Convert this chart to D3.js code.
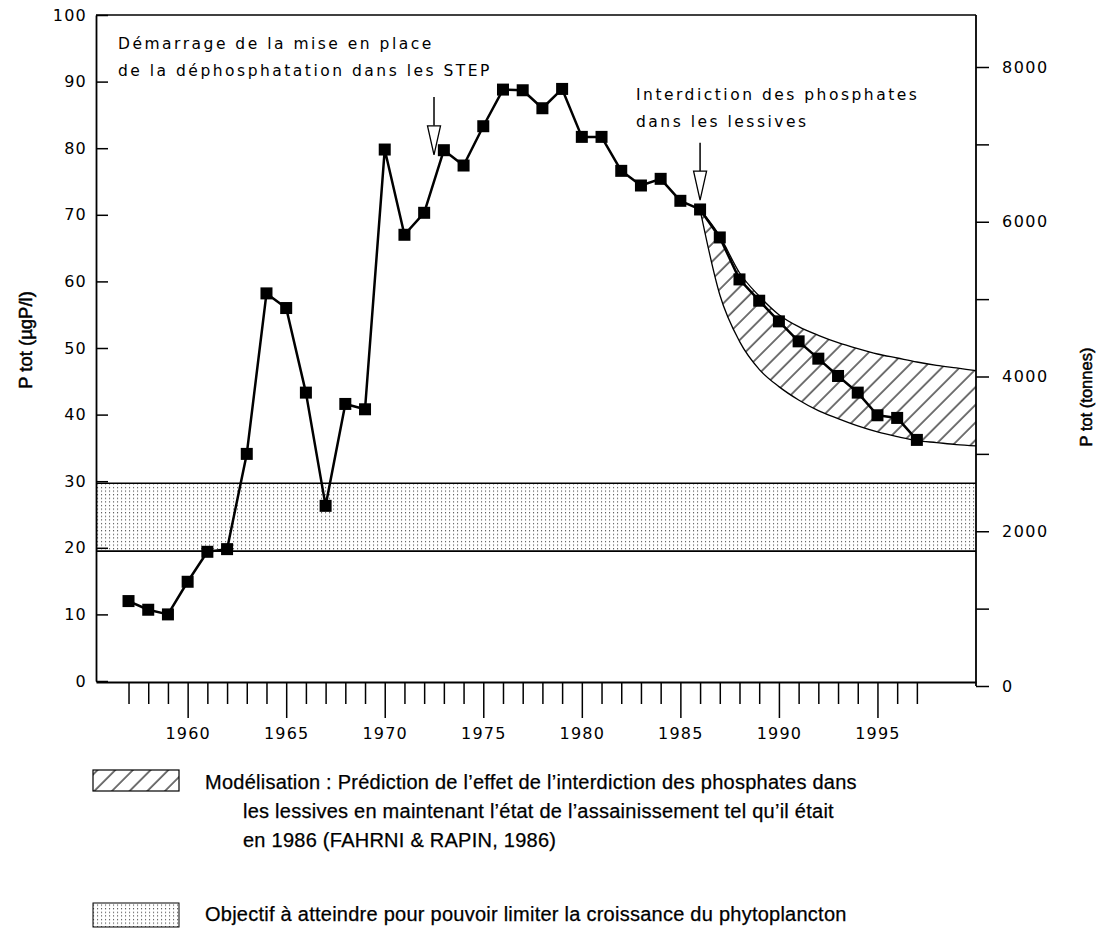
<!DOCTYPE html>
<html>
<head>
<meta charset="utf-8">
<script src="https://cdn.jsdelivr.net/npm/d3@7"></script>
<style>
  body { margin: 0; background: #fff; }
  svg { display: block; }
</style>
</head>
<body>
<svg id="chart" width="1099" height="932"></svg>
<script>
// Total phosphorus in the lake, yearly means (µgP/l)
const years = [1957, 1958, 1959, 1960, 1961, 1962, 1963, 1964, 1965, 1966,
               1967, 1968, 1969, 1970, 1971, 1972, 1973, 1974, 1975, 1976,
               1977, 1978, 1979, 1980, 1981, 1982, 1983, 1984, 1985, 1986,
               1987, 1988, 1989, 1990, 1991, 1992, 1993, 1994, 1995, 1996, 1997];
const pTot = [12.0, 10.7, 10.0, 14.9, 19.4, 19.8, 34.1, 58.2, 56.0, 43.3,
              26.3, 41.6, 40.8, 79.8, 67.0, 70.3, 79.7, 77.4, 83.3, 88.8,
              88.7, 86.0, 88.9, 81.7, 81.7, 76.6, 74.4, 75.4, 72.1, 70.8,
              66.6, 60.3, 57.1, 54.0, 51.0, 48.4, 45.8, 43.3, 39.9, 39.5, 36.2];

// Model prediction band after the 1986 detergent phosphate ban
const modelYears = [1986, 1987, 1988, 1989, 1990, 1991, 1992, 1993, 1994, 1995, 1996, 1997, 1998, 1999, 2000];
const modelHigh  = [70.8, 66.8, 61.3, 57.8, 55.0, 53.2, 51.9, 50.8, 49.9, 49.1, 48.5, 47.9, 47.4, 47.0, 46.6];
const modelLow   = [70.8, 58.0, 51.0, 46.8, 44.2, 42.2, 40.6, 39.4, 38.3, 37.4, 36.7, 36.1, 35.8, 35.5, 35.3];

// Target range for limiting phytoplankton growth (µgP/l)
const objectiveBand = [19.5, 29.7];

// Axis ticks
const leftTicks = [0, 10, 20, 30, 40, 50, 60, 70, 80, 90, 100];
const rightTicks = [0, 1000, 2000, 3000, 4000, 5000, 6000, 7000, 8000];
const yearTicks = d3.range(1957, 1998);
const yearLabels = [1960, 1965, 1970, 1975, 1980, 1985, 1990, 1995];

// Annotation arrows: [year, top value, tip value]
const arrowSTEP = [1972.5, 87.7, 79.0];
const arrowBan = [1986, 80.8, 72.2];

const svg = d3.select("#chart");
const tickFont = "'DejaVu Sans', sans-serif";
const textFont = "'Liberation Sans', Arial, sans-serif";

const x = d3.scaleLinear().domain([1955.35, 2000]).range([96, 976]);
const y = d3.scaleLinear().domain([0, 100]).range([681, 15]);
const yT = d3.scaleLinear().domain([0, 8000]).range([686, 67]);

// Patterns
const defs = svg.append("defs");
const hatch = defs.append("pattern")
  .attr("id", "hatch").attr("patternUnits", "userSpaceOnUse")
  .attr("width", 12.5).attr("height", 12.5)
  .attr("patternTransform", "rotate(45)");
hatch.append("line").attr("x1", 1).attr("y1", -1).attr("x2", 1).attr("y2", 14)
  .attr("stroke", "#000").attr("stroke-width", 1.1);

const dots = defs.append("pattern")
  .attr("id", "dots").attr("patternUnits", "userSpaceOnUse")
  .attr("width", 4).attr("height", 3.6);
dots.append("rect").attr("x", 1).attr("y", 1).attr("width", 1.1).attr("height", 1.1).attr("fill", "#444");

// Objective band
svg.append("rect")
  .attr("x", x.range()[0]).attr("width", x.range()[1] - x.range()[0])
  .attr("y", y(objectiveBand[1])).attr("height", y(objectiveBand[0]) - y(objectiveBand[1]))
  .attr("fill", "url(#dots)");
objectiveBand.forEach(v => {
  svg.append("line")
    .attr("x1", x.range()[0]).attr("x2", x.range()[1])
    .attr("y1", y(v)).attr("y2", y(v))
    .attr("stroke", "#000").attr("stroke-width", 1.6);
});

// Model band
const model = modelYears.map((yr, i) => ({ yr, lo: modelLow[i], hi: modelHigh[i] }));
svg.append("path").datum(model)
  .attr("d", d3.area().x(d => x(d.yr)).y0(d => y(d.lo)).y1(d => y(d.hi)).curve(d3.curveMonotoneX))
  .attr("fill", "url(#hatch)");
["lo", "hi"].forEach(k => {
  svg.append("path").datum(model)
    .attr("d", d3.line().x(d => x(d.yr)).y(d => y(d[k])).curve(d3.curveMonotoneX))
    .attr("fill", "none").attr("stroke", "#000").attr("stroke-width", 1.3);
});

// Frame: top border and right axis line
svg.append("line").attr("x1", x.range()[0]).attr("x2", x.range()[1])
  .attr("y1", y(100)).attr("y2", y(100)).attr("stroke", "#000").attr("stroke-width", 1.6);
svg.append("line").attr("x1", x.range()[1]).attr("x2", x.range()[1])
  .attr("y1", y(100)).attr("y2", yT(0)).attr("stroke", "#000").attr("stroke-width", 1.8);

// Left axis (ticks pointing inward)
const gL = svg.append("g").attr("transform", `translate(${x.range()[0]},0)`)
  .call(d3.axisLeft(y).tickValues(leftTicks).tickSizeInner(-12).tickSizeOuter(0).tickPadding(9));
gL.selectAll("text").attr("font-family", tickFont).attr("font-size", 16)
  .attr("letter-spacing", "1.2px").attr("fill", "#000");

// Right axis (tonnes)
const gR = svg.append("g").attr("transform", `translate(${x.range()[1]},0)`)
  .call(d3.axisRight(yT).tickValues(rightTicks).tickSizeInner(13).tickSizeOuter(0).tickPadding(13)
    .tickFormat(d => d % 2000 === 0 ? d : ""));
gR.select(".domain").remove();
gR.selectAll("text").attr("font-family", tickFont).attr("font-size", 16)
  .attr("letter-spacing", "1.5px").attr("fill", "#000");

// Bottom axis: minor year ticks, then longer labelled ticks every 5 years
const xAxisY = 682;
svg.append("g").attr("transform", `translate(0,${xAxisY})`)
  .call(d3.axisBottom(x).tickValues(yearTicks.filter(v => v % 5 !== 0)).tickSizeInner(22).tickSizeOuter(0).tickFormat(""));
const gB2 = svg.append("g").attr("transform", `translate(0,${xAxisY})`)
  .call(d3.axisBottom(x).tickValues(yearLabels).tickSizeInner(36).tickSizeOuter(0).tickPadding(10)
    .tickFormat(d3.format("d")));
gB2.select(".domain").remove();
gB2.selectAll("text").attr("font-family", tickFont).attr("font-size", 16)
  .attr("letter-spacing", "1.2px").attr("fill", "#000");

svg.selectAll(".domain").attr("stroke-width", 1.8);
svg.selectAll(".tick line").attr("stroke-width", 1.5);

// Measured series
const pts = years.map((yr, i) => ({ yr, v: pTot[i] }));
svg.append("path").datum(pts)
  .attr("d", d3.line().x(d => x(d.yr)).y(d => y(d.v)))
  .attr("fill", "none").attr("stroke", "#000").attr("stroke-width", 2.5).attr("stroke-linejoin", "round");
const ms = 12;
svg.selectAll("rect.pt").data(pts).join("rect").attr("class", "pt")
  .attr("x", d => x(d.yr) - ms / 2).attr("y", d => y(d.v) - ms / 2)
  .attr("width", ms).attr("height", ms).attr("fill", "#000");

// Annotation arrows (shaft plus open triangular head)
function arrow([yr, top, tip]) {
  const ax = x(yr), y0 = y(top), y1 = y(tip);
  const headH = 29, headW = 13;
  svg.append("line").attr("x1", ax).attr("x2", ax).attr("y1", y0).attr("y2", y1 - headH)
    .attr("stroke", "#000").attr("stroke-width", 1.5);
  svg.append("path")
    .attr("d", `M${ax - headW / 2},${y1 - headH} L${ax + headW / 2},${y1 - headH} L${ax},${y1} Z`)
    .attr("fill", "#fff").attr("stroke", "#000").attr("stroke-width", 1.3);
}
arrow(arrowSTEP);
arrow(arrowBan);

function note(lines, x0, y0, lh) {
  lines.forEach((t, i) => {
    svg.append("text").attr("x", x0).attr("y", y0 + i * lh)
      .attr("font-family", tickFont).attr("font-size", 15.5).attr("letter-spacing", "2.5px")
      .attr("fill", "#000").text(t);
  });
}
note(["Démarrage de la mise en place", "de la déphosphatation dans les STEP"], 118, 49, 27);
note(["Interdiction des phosphates", "dans les lessives"], 636, 100, 27);

// Axis titles
svg.append("text").attr("transform", "translate(32,340) rotate(-90)")
  .attr("text-anchor", "middle").attr("font-family", textFont).attr("font-size", 18.5)
  .attr("fill", "#000").attr("stroke", "#000").attr("stroke-width", 0.5).text("P tot  (µgP/l)");
svg.append("text").attr("transform", "translate(1092,397) rotate(-90)")
  .attr("text-anchor", "middle").attr("font-family", textFont).attr("font-size", 16.5)
  .attr("fill", "#000").attr("stroke", "#000").attr("stroke-width", 0.5).text("P tot  (tonnes)");

// Legend
svg.append("rect").attr("x", 93).attr("y", 770).attr("width", 86).attr("height", 21)
  .attr("fill", "url(#hatch)").attr("stroke", "#000").attr("stroke-width", 1.2);
svg.append("rect").attr("x", 93).attr("y", 903).attr("width", 86).attr("height", 24)
  .attr("fill", "url(#dots)").attr("stroke", "#000").attr("stroke-width", 1);

const legendLines = [
  ["Modélisation : Prédiction de l’effet de l’interdiction des phosphates dans", 205, 789],
  ["les lessives en maintenant l’état de l’assainissement tel qu’il était", 243, 818],
  ["en 1986 (FAHRNI & RAPIN, 1986)", 243, 847],
  ["Objectif à atteindre pour pouvoir limiter la croissance du phytoplancton", 205, 921]
];
legendLines.forEach(([t, lx, ly]) => {
  svg.append("text").attr("x", lx).attr("y", ly)
    .attr("font-family", textFont).attr("font-size", 20).attr("letter-spacing", "0.25px")
    .attr("fill", "#000").attr("stroke", "#000").attr("stroke-width", 0.25).text(t);
});
</script>
</body>
</html>
